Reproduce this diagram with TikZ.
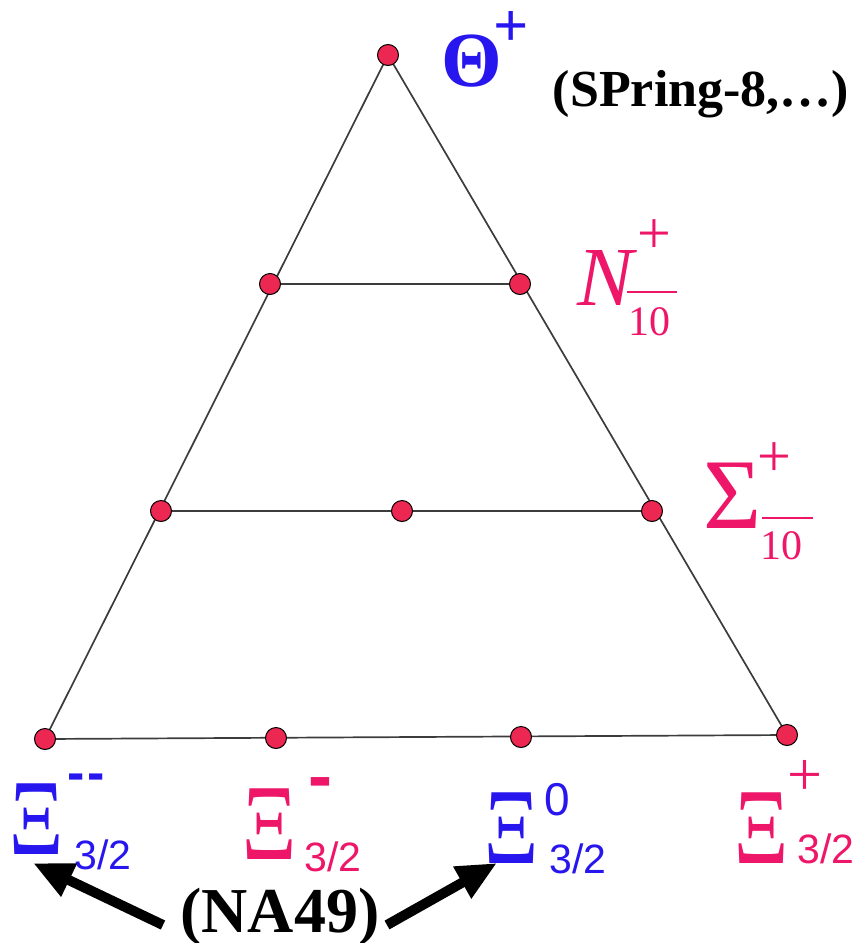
\documentclass[tikz,border=0pt]{standalone}
\usepackage{fontspec}
\setmainfont{Liberation Serif}
\newfontfamily\lsans{Liberation Sans}
\usetikzlibrary{arrows.meta}
\definecolor{dotred}{RGB}{236,40,82}
\definecolor{mblue}{RGB}{40,22,238}
\definecolor{mpink}{RGB}{238,22,104}
\definecolor{edgegray}{RGB}{60,60,60}
\tikzset{
  pt/.style={circle,draw=black,line width=1pt,fill=dotred,minimum size=21pt,inner sep=0pt},
  edge/.style={draw=edgegray,line width=1.7pt},
  lbl/.style={inner sep=0pt,outer sep=0pt},
  fs/.style={font=\fontsize{#1}{#1}\selectfont},
  bigarrow/.style={line width=10pt,-{Triangle[length=40pt,width=34pt]}},
}
\begin{document}
\begin{tikzpicture}[x=1pt,y=-1pt]
\useasboundingbox (0,0) rectangle (857,943);
% vertices
\coordinate (ptop) at (388,55);
\coordinate (pn1) at (270,284);
\coordinate (pn2) at (520,284);
\coordinate (ps1) at (161,511);
\coordinate (ps2) at (402,511);
\coordinate (ps3) at (652,511);
\coordinate (pb1) at (45,739);
\coordinate (pb2) at (276,738);
\coordinate (pb3) at (521,737);
\coordinate (pb4) at (787,735);
\draw[edge] (ptop) -- (pb1);
\draw[edge] (ptop) -- (pb4);
\draw[edge] (pb1) -- (pb4);
\draw[edge] (pn1) -- (pn2);
\draw[edge] (ps1) -- (ps3);
\foreach \p in {ptop,pn1,pn2,ps1,ps2,ps3,pb1,pb2,pb3,pb4}
  \node[pt] (d\p) at (\p) {};
% Theta+
\node[lbl,text=mblue,fs=78] (theta) at (472,61) {\bfseries Θ};
\node[lbl,text=mblue,fs=62] (thetap) at (511,29) {\bfseries +};
\node[lbl,anchor=base,fs=52] (spring) at (701,106) {\bfseries (SPring-8,…)};
% N
\node[lbl,text=mpink,fs=84] (nn) at (606,278) {\itshape N};
\node[lbl,text=mpink,fs=60] (np) at (654,237) {+};
\draw[mpink,line width=2.2pt] (627,292) -- (677,292);
\node[lbl,text=mpink,fs=42] (n10) at (649,322) {10};
% Sigma
\node[lbl,text=mpink,fs=100] (sig) at (733,496) {Σ};
\node[lbl,text=mpink,fs=60] (sp) at (774,460) {+};
\draw[mpink,line width=2.2pt] (762,518) -- (813,518);
\node[lbl,text=mpink,fs=42] (s10) at (781,546) {10};
% Xi labels
\node[lbl,text=mblue,fs=108] (x1) at (37,819) {\scalebox{0.78}[1]{Ξ}};
\node[lbl,text=mblue,fs=52] (x1s) at (86,782) {\lsans\bfseries -\kern3pt-};
\node[lbl,text=mblue,fs=41] (x1b) at (103,855) {\lsans 3/2};
\node[lbl,text=mpink,fs=108] (x2) at (270,824) {\scalebox{0.78}[1]{Ξ}};
\node[lbl,text=mpink,fs=72] (x2s) at (320,789) {\lsans\bfseries -};
\node[lbl,text=mpink,fs=41] (x2b) at (333,857) {\lsans 3/2};
\node[lbl,text=mblue,fs=108] (x3) at (512,828) {\scalebox{0.78}[1]{Ξ}};
\node[lbl,text=mblue,fs=46] (x3s) at (557,800) {\lsans 0};
\node[lbl,text=mblue,fs=41] (x3b) at (578,859) {\lsans 3/2};
\node[lbl,text=mpink,fs=108] (x4) at (762,828) {\scalebox{0.78}[1]{Ξ}};
\node[lbl,text=mpink,fs=62] (x4s) at (805,778) {+};
\node[lbl,text=mpink,fs=41] (x4b) at (826,849) {\lsans 3/2};
% NA49
\node[lbl,anchor=base,fs=64] (na49) at (280,932) {\bfseries (NA49)};
\coordinate (t1) at (163,925);
\coordinate (h1) at (33,863);
\coordinate (t2) at (387,925);
\coordinate (h2) at (497,863);
\draw[bigarrow] (t1) -- (h1);
\draw[bigarrow] (t2) -- (h2);
\end{tikzpicture}
\end{document}
